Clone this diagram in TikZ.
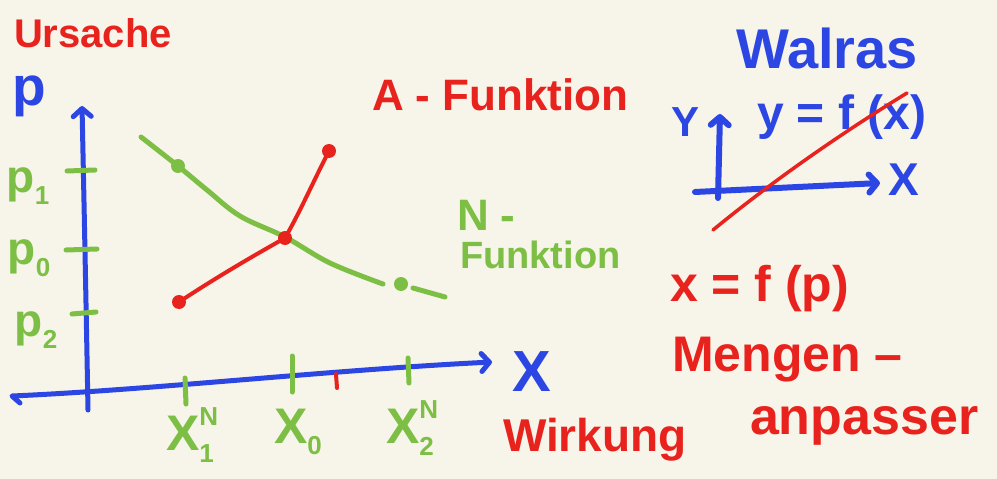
\documentclass[tikz,border=0pt]{standalone}
\usepackage{fontspec}
\setmainfont{Liberation Sans}
\usetikzlibrary{arrows.meta}
\definecolor{bg}{HTML}{F7F4E9}
\definecolor{hred}{HTML}{E8231E}
\definecolor{hblue}{HTML}{2B46E3}
\definecolor{hgreen}{HTML}{7DBF45}
\newcommand{\fs}[1]{\fontsize{#1}{#1}\selectfont}
\newcommand{\supsub}[2]{{\fs{26}\rlap{\raisebox{0.95em}{#1}}\raisebox{-0.45em}{#2}}}
\begin{document}
\begin{tikzpicture}[x=1pt,y=-1pt,
  pen/.style={line width=5pt,line cap=round,line join=round},
  arr/.style={-{Straight Barb[length=8pt,width=18pt,round]}},
  lbl/.style={inner sep=0pt,outer sep=0pt,font=\bfseries},
  dot/.style={circle,fill=#1,draw=none,inner sep=0pt,minimum size=14pt}]
\fill[bg] (0,0) rectangle (997,479);
\useasboundingbox (0,0) rectangle (997,479);

% main axes
\coordinate (yb) at (88,410);
\coordinate (yt) at (82,106);
\coordinate (xh) at (20,403);
\coordinate (xl) at (12,396);
\coordinate (xr) at (492,362);
\draw[pen,hblue,arr] (yb) .. controls (86,300) and (84,200) .. (yt);
\draw[pen,hblue,arr] (xh) -- (xl) .. controls (150,390) and (330,370) .. (xr);

% ticks on p axis
\draw[pen,hgreen] (67,171) -- (95,170);
\draw[pen,hgreen] (66,250) -- (97,249);
\draw[pen,hgreen] (72,314) -- (96,312);
% ticks on x axis
\draw[pen,hgreen] (185,378) -- (186,404);
\draw[pen,hgreen] (292,356) -- (292,392);
\draw[pen,hgreen] (408,358) -- (409,383);
\draw[pen,hred,line width=4pt] (336,374) -- (337,388);

% N-curve
\coordinate (n0) at (141,137);
\node[dot=hgreen] (n1) at (178,166) {};
\coordinate (n2) at (285,237);
\coordinate (n3e) at (383,284);
\node[dot=hgreen] (n3) at (401,284) {};
\coordinate (n4s) at (413,288);
\coordinate (n4) at (445,297);
\draw[pen,hgreen] plot[smooth,tension=0.6] coordinates {(n0) (n1.center) (207,190) (240,216) (n2) (330,263) (n3e)};
\draw[pen,hgreen] (n4s) -- (n4);

% A-curve
\node[dot=hred] (a1) at (179,302) {};
\node[dot=hred] (a0) at (285,238) {};
\node[dot=hred] (a2) at (329,151) {};
\draw[pen,hred,line width=4pt] (a1.center) .. controls (220,275) and (255,255) .. (a0.center)
  .. controls (300,212) and (314,180) .. (a2.center);

% labels main graph
\node[lbl,text=hred,anchor=west] (ursache) at (14,33) {\fs{40}Ursache};
\node[lbl,text=hblue] (plbl) at (29,96) {\fs{55}p};
\node[lbl,text=hgreen] (p1) at (28,186) {\fs{46}p{\fs{26}\raisebox{-0.45em}{1}}};
\node[lbl,text=hgreen] (p0) at (29,258) {\fs{46}p{\fs{26}\raisebox{-0.45em}{0}}};
\node[lbl,text=hgreen] (p2) at (36,330) {\fs{46}p{\fs{26}\raisebox{-0.45em}{2}}};
\node[lbl,text=hblue] (xlbl) at (532,372) {\fs{58}X};
\node[lbl,text=hgreen] (x1) at (190,435) {\fs{50}X\supsub{N}{1}};
\node[lbl,text=hgreen] (x0) at (298,432) {\fs{50}X{\fs{26}\raisebox{-0.45em}{0}}};
\node[lbl,text=hgreen] (x2) at (410,428) {\fs{50}X\supsub{N}{2}};
\node[lbl,text=hred,anchor=west] (afkt) at (372,95) {\fs{44}A - Funktion};
\node[lbl,text=hgreen,anchor=west] (nlbl) at (457,215) {\fs{44}N -};
\node[lbl,text=hgreen,anchor=west] (nfkt) at (460,255) {\fs{38}Funktion};
\node[lbl,text=hred,anchor=west] (wirkung) at (503,440) {\fs{46}Wirkung};

% Walras block
\node[lbl,text=hblue] (walras) at (827,48) {\fs{56}Walras};
\coordinate (sy0) at (718,198);
\coordinate (sy1) at (720,114);
\coordinate (sx0) at (695,192);
\coordinate (sx1) at (880,183);
\draw[pen,hblue,line width=6pt,arr] (sy0) -- (sy1);
\draw[pen,hblue,line width=6pt,arr] (sx0) -- (sx1);
\node[lbl,text=hblue] (ysm) at (686,122) {\fs{42}Y};
\node[lbl,text=hblue] (xsm) at (904,180) {\fs{46}X};
\node[lbl,text=hblue,anchor=west] (yfx) at (757,117) {\fs{48}y = f (x)};
\coordinate (r0) at (713,230);
\coordinate (r1) at (907,93);
\draw[pen,hred,line width=3.5pt] (r0) .. controls (780,175) and (850,128) .. (r1);

% right red texts
\node[lbl,text=hred,anchor=west] (xfp) at (670,289) {\fs{50}x = f (p)};
\node[lbl,text=hred,anchor=west] (mengen) at (672,360) {\fs{50}Mengen –};
\node[lbl,text=hred,anchor=west] (anpasser) at (750,426) {\fs{52}anpasser};
\end{tikzpicture}
\end{document}
